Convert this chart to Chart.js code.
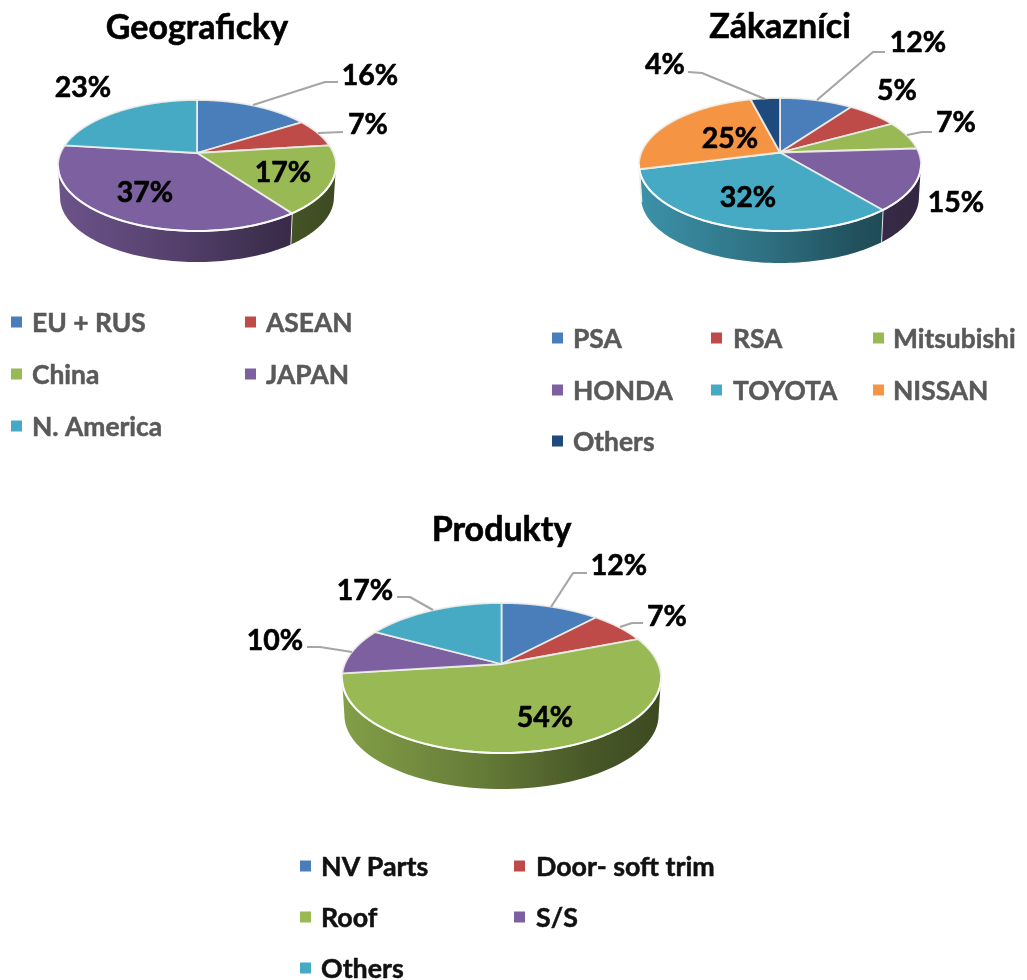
<!DOCTYPE html>
<html><head><meta charset="utf-8">
<style>html,body{margin:0;padding:0;background:#fff;width:1027px;height:980px;overflow:hidden}canvas{position:absolute}</style>
<script src="https://cdn.jsdelivr.net/npm/chart.js@4"></script></head><body>
<canvas id="c1" width="514" height="470" style="left:0;top:0"></canvas>
<canvas id="c2" width="513" height="470" style="left:514px;top:0"></canvas>
<canvas id="c3" width="1027" height="510" style="left:0;top:470px"></canvas>
<script>
const geoLabels = ['EU + RUS','ASEAN','China','JAPAN','N. America'];
const geoValues = [16,7,17,37,23];
const geoPercent = [16,7,17,37,23];
const zakLabels = ['PSA','RSA','Mitsubishi','HONDA','TOYOTA','NISSAN','Others'];
const zakValues = [10,7,7,15,32,25,4];   // slice sizes as drawn
const zakPercent = [12,5,7,15,32,25,4];  // printed labels
const prodLabels = ['NV Parts','Door- soft trim','Roof','S/S','Others'];
const prodValues = [12,7,54,10,17];
const prodPercent = [12,7,54,10,17];
const palette = ['#4a7ebb','#be4b48','#98b954','#7d60a0','#46aac4','#f59443','#1f4a7d'];
const FONT = 'Lato, "Open Sans", sans-serif';

function rgb(hex,f){const n=parseInt(hex.slice(1),16);return `rgb(${Math.round((n>>16&255)*f)},${Math.round((n>>8&255)*f)},${Math.round((n&255)*f)})`;}

const pie3d = {
  id:'pie3d',
  beforeDatasetsDraw(chart,args,o){
    const c=chart.ctx, arcs=chart.getDatasetMeta(0).data, cols=chart.data.datasets[0].backgroundColor;
    const up=o.apexY-o.top, dn=o.bottom-o.apexY, k=(dn-up)/(dn+up), S=dn*(1-k), R=o.rx*Math.sqrt(1-k*k);
    const pt=(a,low)=>{const w=1-k*Math.sin(a), s=low?0.985:1, d=low?o.depth+dn*0.015:0;
      return [o.cx+s*R*Math.cos(a)/w, o.apexY+d+s*S*Math.sin(a)/w];};
    c.save(); c.translate(-o.ox,-o.oy); c.lineJoin='round';
    const lo=Math.asin(k), hi=Math.PI-lo;
    // side wall
    arcs.forEach((el,i)=>{
      const a0=el.startAngle, a1=el.endAngle;
      [[a0,a1],[a0-2*Math.PI,a1-2*Math.PI]].forEach(([p,q])=>{
        const s=Math.max(p,lo), e=Math.min(q,hi); if(e<=s) return;
        const g=c.createLinearGradient(o.cx-o.rx,0,o.cx+o.rx,0);
        g.addColorStop(0,rgb(cols[i],0.86)); g.addColorStop(0.45,rgb(cols[i],0.66));
        g.addColorStop(0.78,rgb(cols[i],0.47)); g.addColorStop(1,rgb(cols[i],0.4));
        c.beginPath(); const n=80;
        for(let t=0;t<=n;t++){const p2=pt(s+(e-s)*t/n,false); t?c.lineTo(p2[0],p2[1]):c.moveTo(p2[0],p2[1]);}
        for(let t=n;t>=0;t--){const p2=pt(s+(e-s)*t/n,true); c.lineTo(p2[0],p2[1]);}
        c.closePath(); c.fillStyle=g; c.fill();
        if(e<hi-1e-6 && e===q){const A=pt(e,false),B=pt(e,true);c.beginPath();c.moveTo(A[0],A[1]);c.lineTo(B[0],B[1]);c.strokeStyle='#f4f4f4';c.lineWidth=1.8;c.stroke();}
      });
    });
    // top faces
    arcs.forEach((el,i)=>{
      c.beginPath(); c.moveTo(o.cx,o.apexY); const n=160;
      for(let t=0;t<=n;t++){const p2=pt(el.startAngle+(el.endAngle-el.startAngle)*t/n,false); c.lineTo(p2[0],p2[1]);}
      c.closePath(); c.fillStyle=cols[i]; c.fill();
      c.strokeStyle='rgba(240,240,235,0.9)'; c.lineWidth=1.8; c.stroke();
    });
    // bright front rim
    c.beginPath();
    for(let t=0;t<=120;t++){const p2=pt(lo+(hi-lo)*t/120,false); t?c.lineTo(p2[0],p2[1]):c.moveTo(p2[0],p2[1]);}
    c.strokeStyle='#fafafa'; c.lineWidth=2; c.stroke();
    // leader lines
    c.strokeStyle='#a6a6a6'; c.lineWidth=2.2;
    o.leaders.forEach(l=>{c.beginPath();l.forEach((p,j)=>j?c.lineTo(p[0],p[1]):c.moveTo(p[0],p[1]));c.stroke();});
    const put=(t,x,y,w)=>{c.lineWidth=w;c.strokeStyle=c.fillStyle;c.strokeText(t,x,y);c.fillText(t,x,y);};
    // title
    c.textAlign='center'; c.textBaseline='middle'; c.fillStyle='#000';
    c.font=`700 ${o.titleSize}px ${FONT}`; put(o.title,o.cx,o.titleY,0.6);
    // value labels
    c.font=`700 ${o.labelSize}px ${FONT}`;
    o.percent.forEach((v,i)=>{put(v+'%',o.labelPos[i][0],o.labelPos[i][1]+1,0.6);});
    // legend
    c.textAlign='left'; c.font=`700 ${o.legendSize}px ${FONT}`;
    chart.data.labels.forEach((t,i)=>{
      const col=i%o.legendX.length, row=Math.floor(i/o.legendX.length), x=o.legendX[col], y=o.legendY[row];
      c.fillStyle=cols[i]; c.fillRect(x,y-5.5,11,11);
      c.fillStyle=o.legendColor; put(t,x+o.legendGap[col],y+1,0.5);
    });
    c.restore();
    return false;
  }
};

function make(id,labels,values,opt){
  new Chart(document.getElementById(id),{
    type:'pie',
    data:{labels,datasets:[{data:values,backgroundColor:palette.slice(0,values.length),borderWidth:0}]},
    plugins:[pie3d],
    options:{responsive:false,animation:false,devicePixelRatio:1,
      plugins:{legend:{display:false},title:{display:false},tooltip:{enabled:false},pie3d:opt}}
  });
}

make('c1',geoLabels,geoValues,{percent:geoPercent,ox:0,oy:0,cx:197,apexY:153,top:100,bottom:231,rx:139,depth:31,
  title:'Geograficky',titleY:28,titleSize:34,labelSize:28.5,
  labelPos:[[370,75],[368,124],[283,172],[145,192],[83,87]],
  leaders:[[[253,105],[325,82],[338,82]],[[318,133],[343,132]]],
  legendX:[11,245],legendGap:[21,21],legendY:[322,374,426],legendSize:26.4,legendColor:'#595959'});
make('c2',zakLabels,zakValues,{percent:zakPercent,ox:514,oy:0,cx:780,apexY:152.5,top:98,bottom:231,rx:141,depth:32,
  title:'Zákazníci',titleY:27,titleSize:34,labelSize:28.5,
  labelPos:[[918,42],[897,90],[956,122],[956,202],[748,197],[730,138],[665,64]],
  leaders:[[[817,100],[873,52],[885,52]],[[907,135],[922,132],[932,132]],[[688,72],[702,73],[765,99]]],
  legendX:[552,711,873],legendGap:[21,22,20],legendY:[338,390,441],legendSize:26.4,legendColor:'#595959'});
make('c3',prodLabels,prodValues,{percent:prodPercent,ox:0,oy:470,cx:501.5,apexY:664,top:603,bottom:753,rx:159.5,depth:36,
  title:'Produkty',titleY:530,titleSize:34,labelSize:28.5,
  labelPos:[[619,565],[667,616],[545,717],[275,640],[365,590]],
  leaders:[[[551,607],[573,573],[587,573]],[[620,627],[632,623],[643,623]],[[397,597],[410,597],[433,610]],[[307,647],[320,647],[352,652]]],
  legendX:[300,514],legendGap:[21,22],legendY:[866,917,968],legendSize:26.8,legendColor:'#111'});
</script></body></html>
